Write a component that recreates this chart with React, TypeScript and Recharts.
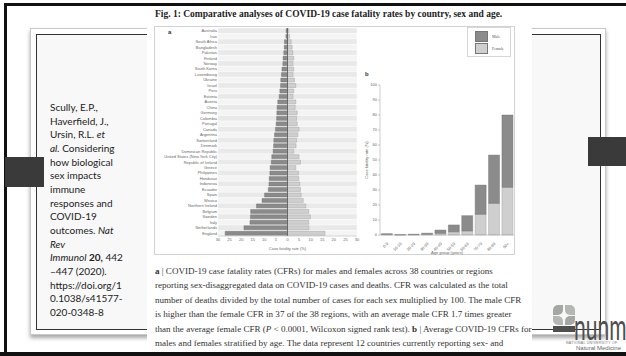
import React from 'react';
import { BarChart, Bar, XAxis, YAxis, ReferenceArea, ReferenceLine, Legend } from 'recharts';

// panel a: CFR by country (%), sorted by male CFR
const countries = [
  'Australia', 'Iran', 'South Africa', 'Bangladesh', 'Pakistan', 'Finland', 'Norway', 'South Korea',
  'Luxembourg', 'Ukraine', 'Israel', 'Peru', 'Estonia', 'Austria', 'China', 'Germany', 'Colombia',
  'Portugal', 'Canada', 'Argentina', 'Switzerland', 'Denmark', 'Dominican Republic',
  'United States (New York City)', 'Republic of Ireland', 'Greece', 'Philippines', 'Honduras',
  'Indonesia', 'Ecuador', 'Spain', 'Mexico', 'Northern Ireland', 'Belgium', 'Sweden', 'Italy',
  'Netherlands', 'England',
];
const maleCfr = [
  0.6, 0.7, 1.3, 1.4, 1.6, 1.9, 2.0, 2.4, 2.6, 2.9, 3.0, 3.3, 3.6, 4.2, 4.5, 4.6, 4.7, 4.9, 5.2,
  5.6, 5.9, 6.0, 6.2, 6.8, 7.0, 7.5, 7.6, 7.9, 8.0, 8.3, 9.9, 11.0, 13.4, 15.9, 16.0, 16.2, 18.8, 26.9,
];
const femaleCfr = [
  0.6, 0.9, 1.6, 2.0, 2.3, 2.7, 2.4, 2.7, 2.4, 3.0, 3.6, 2.7, 2.4, 3.6, 3.3, 4.2, 3.9, 4.2, 5.0,
  4.5, 3.9, 3.7, 2.7, 5.0, 5.6, 3.6, 4.7, 4.9, 5.3, 5.6, 5.9, 6.8, 7.9, 9.2, 9.9, 9.2, 9.2, 16.2,
];
const cfrTicks = [-30, -25, -20, -15, -10, -5, 0, 5, 10, 15, 20, 25, 30];

// panel b: CFR by age group, stacked
const ageGroups = ['0-9', '10-19', '20-29', '30-39', '40-49', '50-59', '60-69', '70-79', '80-89', '90+'];
const maleByAge = [0.6, 0.1, 0.3, 0.8, 2.2, 4.6, 10.2, 19.5, 32.2, 48.2];
const femaleByAge = [0.3, 0.1, 0.2, 0.4, 1.1, 2.1, 2.7, 13.8, 21.1, 31.8];
const ageTicks = [0, 10, 20, 30, 40, 50, 60, 70, 80, 90, 100];

const MALE = '#8b8b8b';
const FEMALE = '#cfcfcf';
const tickFont = { fontSize: 4, fill: '#666', fontFamily: 'Liberation Sans' };

const countryRows = countries.map((c, i) => ({ country: c, male: -maleCfr[i], female: femaleCfr[i] }));
const ageRows = ageGroups.map((a, i) => ({ age: a, male: maleByAge[i], female: femaleByAge[i] }));

// plain svg text so long names are not wrapped
const CountryTick = ({ x, y, payload }: any) => (
  <text x={x} y={y} dy={1.4} textAnchor="end" {...tickFont}>{payload.value}</text>
);

const LegendBox = ({ payload }: any) => {
  const items = [...(payload || [])].reverse();
  return (
    <div style={{ border: '1px solid #d6d6d6', background: '#fff', width: 44, padding: '2px 0 2px 7px', boxSizing: 'border-box' }}>
      {items.map((p: any) => (
        <div key={p.value} style={{ display: 'flex', alignItems: 'center', height: 12, fontSize: 4, color: '#555', fontFamily: 'Liberation Serif' }}>
          <span style={{ width: 11, height: 9, background: p.color, border: '0.5px solid #777', marginRight: 4, display: 'inline-block' }} />
          {p.value}
        </div>
      ))}
    </div>
  );
};

const caption = [
  <><b>a</b> | COVID-19 case fatality rates (CFRs) for males and females across 38 countries or regions</>,
  <>reporting sex-disaggregated data on COVID-19 cases and deaths. CFR was calculated as the total</>,
  <>number of deaths divided by the total number of cases for each sex multiplied by 100. The male CFR</>,
  <>is higher than the female CFR in 37 of the 38 regions, with an average male CFR 1.7 times greater</>,
  <>than the average female CFR (<i>P</i> &lt; 0.0001, Wilcoxon signed rank test). <b>b</b> | Average COVID-19 CFRs for</>,
  <>males and females stratified by age. The data represent 12 countries currently reporting sex- and</>,
];

const reference = [
  <>Scully, E.P.,</>,
  <>Haverfield, J.,</>,
  <>Ursin, R.L. <i>et</i></>,
  <><i>al.</i> Considering</>,
  <>how biological</>,
  <>sex impacts</>,
  <>immune</>,
  <>responses and</>,
  <>COVID-19</>,
  <>outcomes. <i>Nat</i></>,
  <><i>Rev</i></>,
  <><i>Immunol</i> <b>20,</b> 442</>,
  <>–447 (2020).</>,
  <>https://doi.org/1</>,
  <>0.1038/s41577-</>,
  <>020-0348-8</>,
];

const abs = (v: number) => String(Math.abs(v));

export default function App() {
  const box = (s: React.CSSProperties) => <div style={{ position: 'absolute', ...s }} />;
  return (
    <div style={{ position: 'absolute', left: 0, top: 0, width: 626, height: 356, background: '#fff', overflow: 'hidden' }}>
      {/* slide frame */}
      {box({ left: 30, top: 28, width: 576, height: 307, border: '1px solid #c9c9c9', boxShadow: '0 3px 4px rgba(0,0,0,0.35)', background: '#fff', boxSizing: 'border-box' })}
      {box({ left: 36, top: 34, width: 565, height: 296, border: '1.5px solid #333', background: '#f8f8f8', boxSizing: 'border-box' })}
      {box({ left: 4, top: 3, width: 622, height: 3, background: '#111' })}
      {box({ left: 4, top: 3, width: 3, height: 353, background: '#111' })}
      {box({ left: 0, top: 352, width: 626, height: 4, background: '#111' })}
      {box({ left: 5, top: 157, width: 39, height: 30, background: '#3a3a3a' })}
      {box({ left: 588, top: 137, width: 38, height: 29, background: '#3a3a3a' })}

      {/* reference text */}
      <div style={{ position: 'absolute', left: 50, top: 101, fontFamily: 'Lato', fontSize: 10, lineHeight: '13.67px', color: '#222', whiteSpace: 'nowrap' }}>
        {reference.map((r, i) => <div key={i}>{r}</div>)}
      </div>

      {/* figure image */}
      {box({ left: 147, top: 6, width: 385, height: 346, background: '#fff' })}
      <div style={{ position: 'absolute', left: 155, top: 9, fontFamily: 'Liberation Serif', fontWeight: 'bold', fontSize: 9.5, color: '#222', whiteSpace: 'nowrap' }}>
        Fig. 1: Comparative analyses of COVID-19 case fatality rates by country, sex and age.
      </div>
      {box({ left: 154, top: 26, width: 361, height: 229, border: '1px solid #d2d2d2', boxSizing: 'border-box' })}
      <div style={{ position: 'absolute', left: 168, top: 29, fontSize: 6, fontWeight: 'bold', fontFamily: 'Liberation Sans', color: '#333' }}>a</div>
      <div style={{ position: 'absolute', left: 365, top: 71, fontSize: 6, fontWeight: 'bold', fontFamily: 'Liberation Sans', color: '#333' }}>b</div>

      <div style={{ position: 'absolute', left: 155, top: 24 }}>
        <BarChart width={210} height={230} data={countryRows} layout="vertical" stackOffset="sign"
          barCategoryGap="14%" margin={{ top: 4, right: 8, bottom: 2, left: 0 }}>
          {countries.map((c, i) => (
            <ReferenceArea key={c} y1={c} y2={c} fill={i % 2 ? '#f4f4f4' : '#e9e9e9'} fillOpacity={1} stroke="#fff" strokeWidth={0.4} ifOverflow="visible" />
          ))}
          <XAxis type="number" domain={[-30, 30]} ticks={cfrTicks} tickFormatter={abs} height={16}
            tick={tickFont} tickSize={1} tickMargin={1} axisLine={{ stroke: '#aaa', strokeWidth: 0.5 }} tickLine={false}
            label={{ value: 'Case fatality rate (%)', position: 'insideBottom', offset: 2, ...tickFont }} />
          <YAxis type="category" dataKey="country" width={63} interval={0} tick={<CountryTick />}
            tickLine={false} axisLine={false} tickSize={0} tickMargin={1} />
          <Bar dataKey="male" name="Male" stackId="s" fill={MALE} stroke="#6a6a6a" strokeWidth={0.4} isAnimationActive={false} />
          <Bar dataKey="female" name="Female" stackId="s" fill={FEMALE} stroke="#999" strokeWidth={0.4} isAnimationActive={false} />
          <ReferenceLine x={0} stroke="#555" strokeWidth={0.8} />
        </BarChart>
      </div>

      <div style={{ position: 'absolute', left: 355, top: 24 }}>
        <BarChart width={165} height={236} data={ageRows} barCategoryGap="10%"
          margin={{ top: 61, right: 6, bottom: 6, left: 0 }}>
          <XAxis dataKey="age" interval={0} height={19} tickLine={false} tickMargin={1}
            tick={{ ...tickFont, angle: -45, textAnchor: 'end' }} axisLine={{ stroke: '#999', strokeWidth: 0.5 }}
            label={{ value: 'Age group (years)', position: 'insideBottom', offset: 0, ...tickFont }} />
          <YAxis domain={[0, 100]} ticks={ageTicks} width={25} tick={tickFont} tickSize={2} tickMargin={1}
            tickLine={{ stroke: '#999', strokeWidth: 0.5 }} axisLine={{ stroke: '#999', strokeWidth: 0.5 }}
            label={{ value: 'Case fatality rate (%)', angle: -90, position: 'center', dx: -1, ...tickFont }} />
          <Legend layout="horizontal" verticalAlign="middle" align="center" content={<LegendBox />}
            wrapperStyle={{ top: 3, left: 112, width: 46 }} />
          <Bar dataKey="female" name="Female" stackId="a" fill={FEMALE} stroke="#999" strokeWidth={0.4} isAnimationActive={false} />
          <Bar dataKey="male" name="Male" stackId="a" fill={MALE} stroke="#6a6a6a" strokeWidth={0.4} isAnimationActive={false} />
        </BarChart>
      </div>

      {/* caption */}
      <div style={{ position: 'absolute', left: 155, top: 264, fontFamily: 'Liberation Serif', fontSize: 9.05, lineHeight: '14.4px', color: '#333', whiteSpace: 'nowrap' }}>
        {caption.map((c, i) => <div key={i}>{c}</div>)}
      </div>

      {/* logo */}
      {box({ left: 553, top: 305, width: 10, height: 10, background: '#a4a8a5', borderRadius: '5px 0 5px 0' })}
      {box({ left: 565, top: 305, width: 10, height: 10, background: '#b4b8b5', borderRadius: '0 5px 0 5px' })}
      {box({ left: 553, top: 316, width: 10, height: 9, background: '#b4b8b5', borderRadius: '0 5px 0 5px' })}
      {box({ left: 565, top: 316, width: 10, height: 9, background: '#a4a8a5', borderRadius: '5px 0 5px 0' })}
      {box({ left: 553, top: 326, width: 22, height: 6, background: '#4f4f4f' })}
      <div style={{ position: 'absolute', left: 574, top: 312.5, fontFamily: 'Lato', fontSize: 21, color: '#4f4f4f', transform: 'scaleY(1.7)', transformOrigin: 'top left', lineHeight: '16px' }}>nunm</div>
      <div style={{ position: 'absolute', left: 566, top: 340.5, fontFamily: 'Liberation Sans', fontSize: 3.5, lineHeight: '4px', color: '#777', whiteSpace: 'nowrap', letterSpacing: 0.3 }}>NATIONAL UNIVERSITY OF</div>
      <div style={{ position: 'absolute', left: 576, top: 345, fontFamily: 'Liberation Sans', fontSize: 6, lineHeight: '6.5px', color: '#666', whiteSpace: 'nowrap' }}>Natural Medicine</div>
    </div>
  );
}
